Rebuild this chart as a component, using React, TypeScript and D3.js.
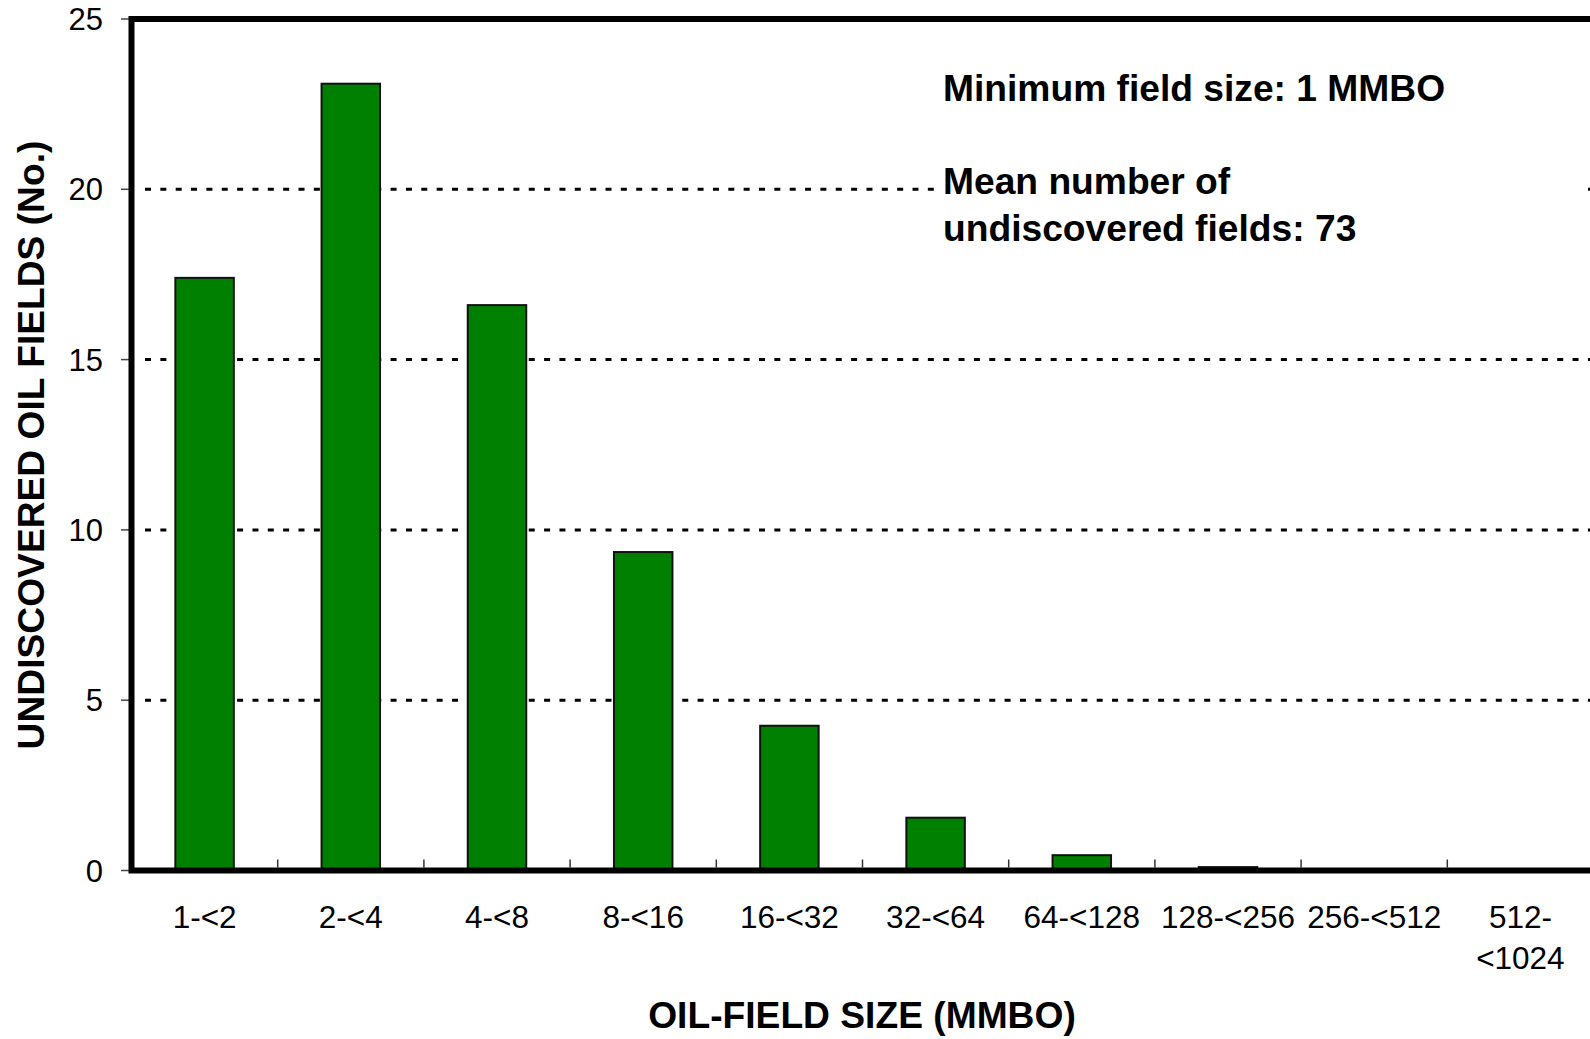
import { useMemo } from 'react';
import * as d3 from 'd3';

// size classes (MMBO) and the mean number of undiscovered fields in each
const sizeClasses = ['1-<2', '2-<4', '4-<8', '8-<16', '16-<32', '32-<64', '64-<128', '128-<256', '256-<512', '512-\n<1024'];
const fieldCounts = [17.4, 23.1, 16.6, 9.35, 4.25, 1.55, 0.45, 0.1, 0, 0];
const yTicks = [0, 5, 10, 15, 20, 25];
const gridValues = [5, 10, 15, 20];
const notes = ['Minimum field size: 1 MMBO', '', 'Mean number of', 'undiscovered fields: 73'];

const width = 1590;
const height = 1039;
const plotLeft = 131.5;
const plotRight = 1593.5;
const plotTop = 19;
const plotBottom = 870.5;
const font = '"Liberation Sans", Arial, Helvetica, sans-serif';

export default function App() {
  const x = useMemo(() => d3.scaleBand<string>()
    .domain(sizeClasses)
    .range([plotLeft, plotRight])
    .paddingInner(0.6)
    .paddingOuter(0.3), []);

  const y = d3.scaleLinear().domain([0, 25]).range([plotBottom, plotTop]);

  const step = x.step();
  const boundaries = d3.range(1, sizeClasses.length).map(i => plotLeft + i * step);

  return (
    <svg
      width={width}
      height={height}
      style={{ position: 'absolute', left: 0, top: 0, background: '#fff' }}
      fontFamily={font}
    >
      <rect x={0} y={0} width={width} height={height} fill="#fff" />

      {/* dashed gridlines */}
      {gridValues.map(v =>
        <line key={v}
          x1={145} x2={plotRight}
          y1={y(v)} y2={y(v)}
          stroke="#000" strokeWidth={3} strokeDasharray="6 9.35" />
      )}

      {/* white box behind the notes */}
      <rect x={938} y={48} width={650} height={205} fill="#fff" />

      {/* bars */}
      {fieldCounts.map((d, i) => d > 0 &&
        <rect key={i}
          x={x(sizeClasses[i])}
          y={y(d)}
          width={x.bandwidth()}
          height={y(0) - y(d)}
          fill="#008000"
          stroke="#111"
          strokeWidth={2} />
      )}

      {/* category boundary ticks */}
      {boundaries.map((b, i) =>
        <line key={i} x1={b} x2={b} y1={plotBottom - 3} y2={plotBottom - 11} stroke="#333" strokeWidth={1.5} />
      )}

      {/* y ticks */}
      {yTicks.map(t =>
        <g key={t}>
          <line x1={121} x2={plotLeft} y1={y(t)} y2={y(t)} stroke="#444" strokeWidth={1.5} />
          <text x={103} y={y(t) + 11} textAnchor="end" fontSize={31} fill="#000">{t}</text>
        </g>
      )}

      {/* plot frame */}
      <rect x={plotLeft} y={plotTop} width={plotRight - plotLeft} height={plotBottom - plotTop}
        fill="none" stroke="#000" strokeWidth={6} />

      {/* x tick labels */}
      {sizeClasses.map(c => {
        const lines = c.split('\n');
        const cx = (x(c) ?? 0) + x.bandwidth() / 2;
        return (
          <text key={c} x={cx} y={928} textAnchor="middle" fontSize={31.5} fill="#000">
            {lines.map((l, j) => <tspan key={j} x={cx} dy={j === 0 ? 0 : 41}>{l}</tspan>)}
          </text>
        );
      })}

      {/* axis titles */}
      <text x={862} y={1028} textAnchor="middle" fontSize={37.2} fontWeight="bold">OIL-FIELD SIZE (MMBO)</text>
      <text transform={`translate(44,${445}) rotate(-90)`} textAnchor="middle" fontSize={37.2} fontWeight="bold">
        UNDISCOVERED OIL FIELDS (No.)
      </text>

      {/* notes */}
      {notes.map((n, i) => n &&
        <text key={i} x={943} y={101 + i * 46.5} fontSize={37.2} fontWeight="bold">{n}</text>
      )}
    </svg>
  );
}
